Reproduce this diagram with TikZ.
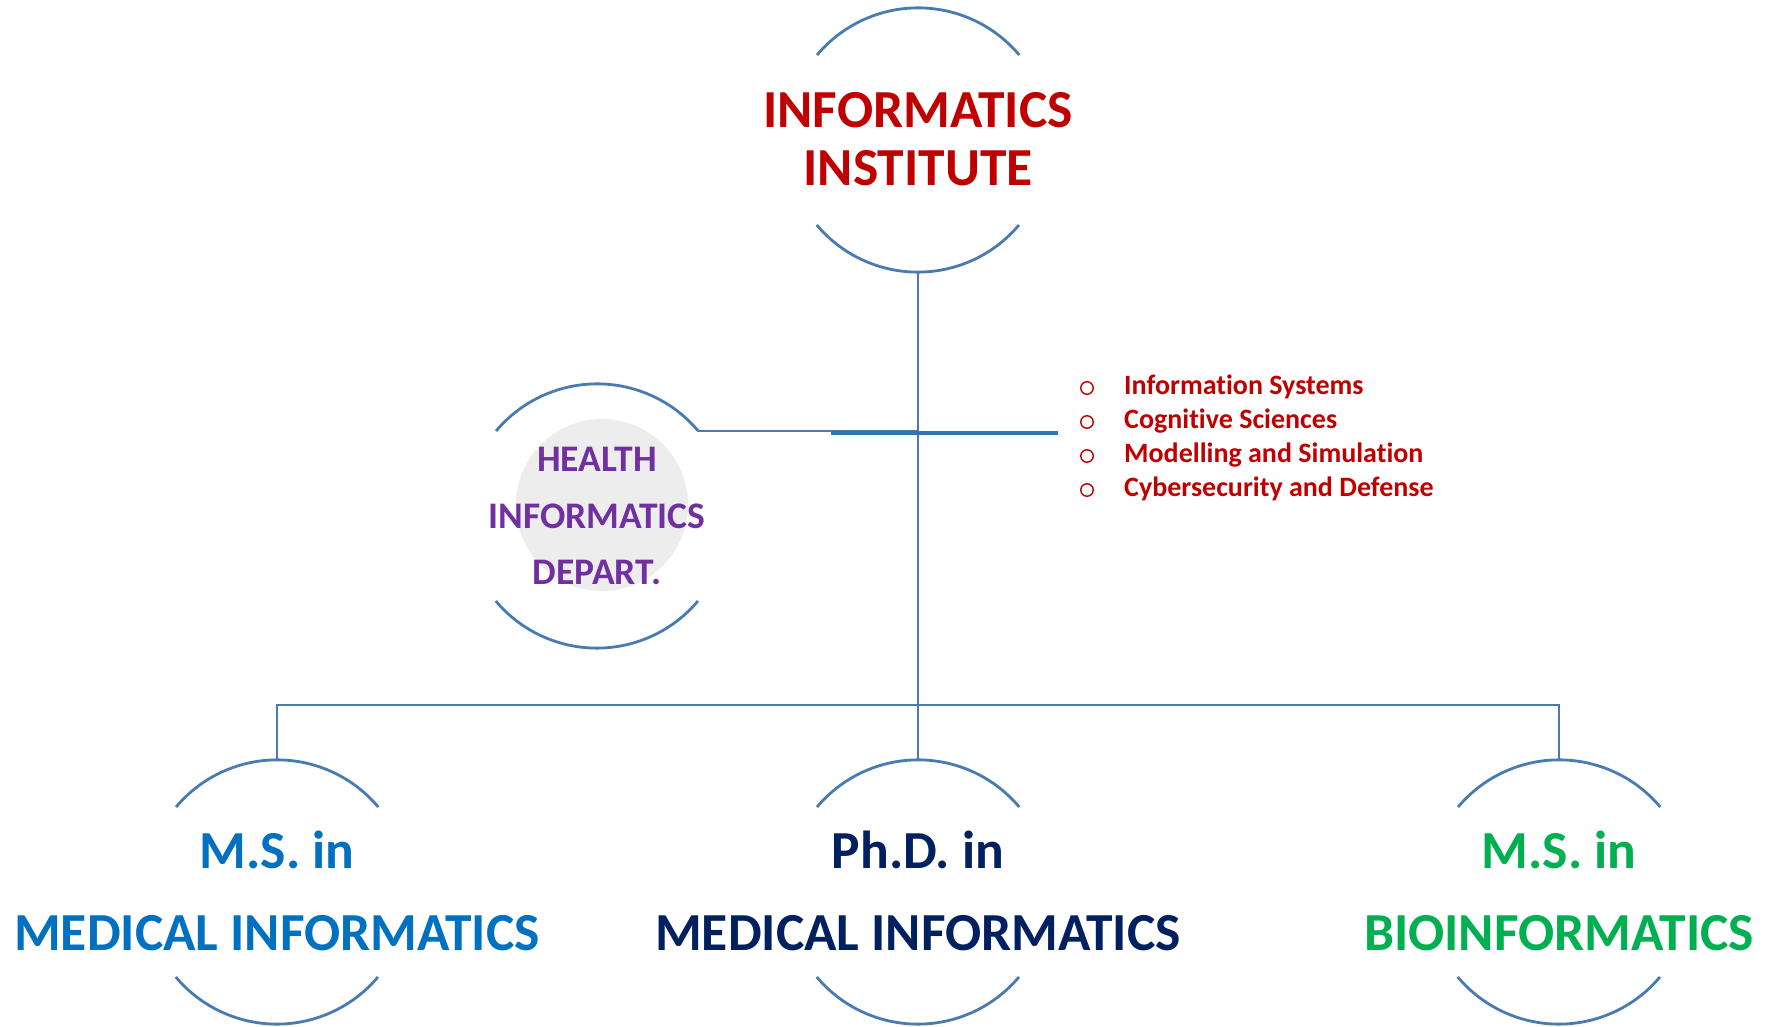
\documentclass[tikz,border=0pt]{standalone}
\usepackage{fontspec}
\setmainfont{Carlito}[Ligatures=NoCommon]
\definecolor{linec}{RGB}{72,124,176}
\definecolor{thickc}{RGB}{46,117,182}
\definecolor{instred}{RGB}{192,0,0}
\definecolor{hpurple}{RGB}{112,48,160}
\definecolor{msblue}{RGB}{0,112,192}
\definecolor{phdnavy}{RGB}{0,32,96}
\definecolor{biogreen}{RGB}{0,176,80}
\definecolor{softgray}{RGB}{237,237,237}
\begin{document}
\begin{tikzpicture}[x=1pt,y=1pt,
  hub/.style={circle,minimum size=264pt,inner sep=0pt,draw=none},
  conn/.style={draw=linec,line width=2.8pt},
  thickconn/.style={draw=thickc,line width=4.6pt},
  arcline/.style={draw=linec,line width=2.8pt},
  titletext/.style={anchor=base,font=\bfseries\fontsize{53.5}{58}\selectfont},
  healthtext/.style={anchor=base,font=\bfseries\fontsize{37.5}{40}\selectfont,text=hpurple},
  listtext/.style={anchor=base west,font=\bfseries\fontsize{28}{30}\selectfont,text=instred,inner sep=0pt},
  bulletmark/.style={circle,draw=instred,line width=1.4pt,minimum size=12.5pt,inner sep=0pt},
  degtext/.style={anchor=base,font=\bfseries\fontsize{53.5}{56}\selectfont}
]
\useasboundingbox (0,0) rectangle (1765,1026);
\fill[white] (0,0) rectangle (1765,1026);

% circles (invisible nodes) and their arcs
\node[hub] (inst) at (918,886) {};
\node[hub] (health) at (597,510) {};
\node[hub] (msmed) at (277,134) {};
\node[hub] (phd) at (918,134) {};
\node[hub] (msbio) at (1559,134) {};

\fill[softgray] (602,521) circle[radius=86pt];

\foreach \n in {inst,health,msmed,phd,msbio}{
  \draw[arcline] (\n.40) arc[start angle=40,end angle=140,radius=132pt];
  \draw[arcline] (\n.220) arc[start angle=220,end angle=320,radius=132pt];
}

% connectors
\coordinate (bus) at (918,321);
\coordinate (thkA) at (831,593);
\coordinate (thkB) at (1058,593);
\draw[conn] (inst.south) -- (phd.north);
\draw[conn] (health.40) -- (health.40 -| inst.south);
\draw[thickconn] (thkA) -- (thkB);
\draw[conn] (msmed.north) |- (bus) -| (msbio.north);

% texts
\node[titletext,text=instred] (instA) at (918,898) {INFORMATICS};
\node[titletext,text=instred] (instB) at (918,840) {INSTITUTE};

\node[healthtext] (hA) at (597,554) {HEALTH};
\node[healthtext] (hB) at (597,497) {INFORMATICS};
\node[healthtext] (hC) at (597,441) {DEPART.};

\node[bulletmark] (b1) at (1087,638) {};
\node[bulletmark] (b2) at (1087,604) {};
\node[bulletmark] (b3) at (1087,570) {};
\node[bulletmark] (b4) at (1087,536) {};
\node[listtext] (l1) at (1124,631) {Information Systems};
\node[listtext] (l2) at (1124,597) {Cognitive Sciences};
\node[listtext] (l3) at (1124,563) {Modelling and Simulation};
\node[listtext] (l4) at (1124,529) {Cybersecurity and Defense};

\node[degtext,text=msblue] (mA) at (277,157) {M.S. in};
\node[degtext,text=msblue] (mB) at (277,76) {MEDICAL INFORMATICS};
\node[degtext,text=phdnavy] (pA) at (918,157) {Ph.D. in};
\node[degtext,text=phdnavy] (pB) at (918,76) {MEDICAL INFORMATICS};
\node[degtext,text=biogreen] (gA) at (1559,157) {M.S. in};
\node[degtext,text=biogreen] (gB) at (1559,76) {BIOINFORMATICS};
\end{tikzpicture}
\end{document}
